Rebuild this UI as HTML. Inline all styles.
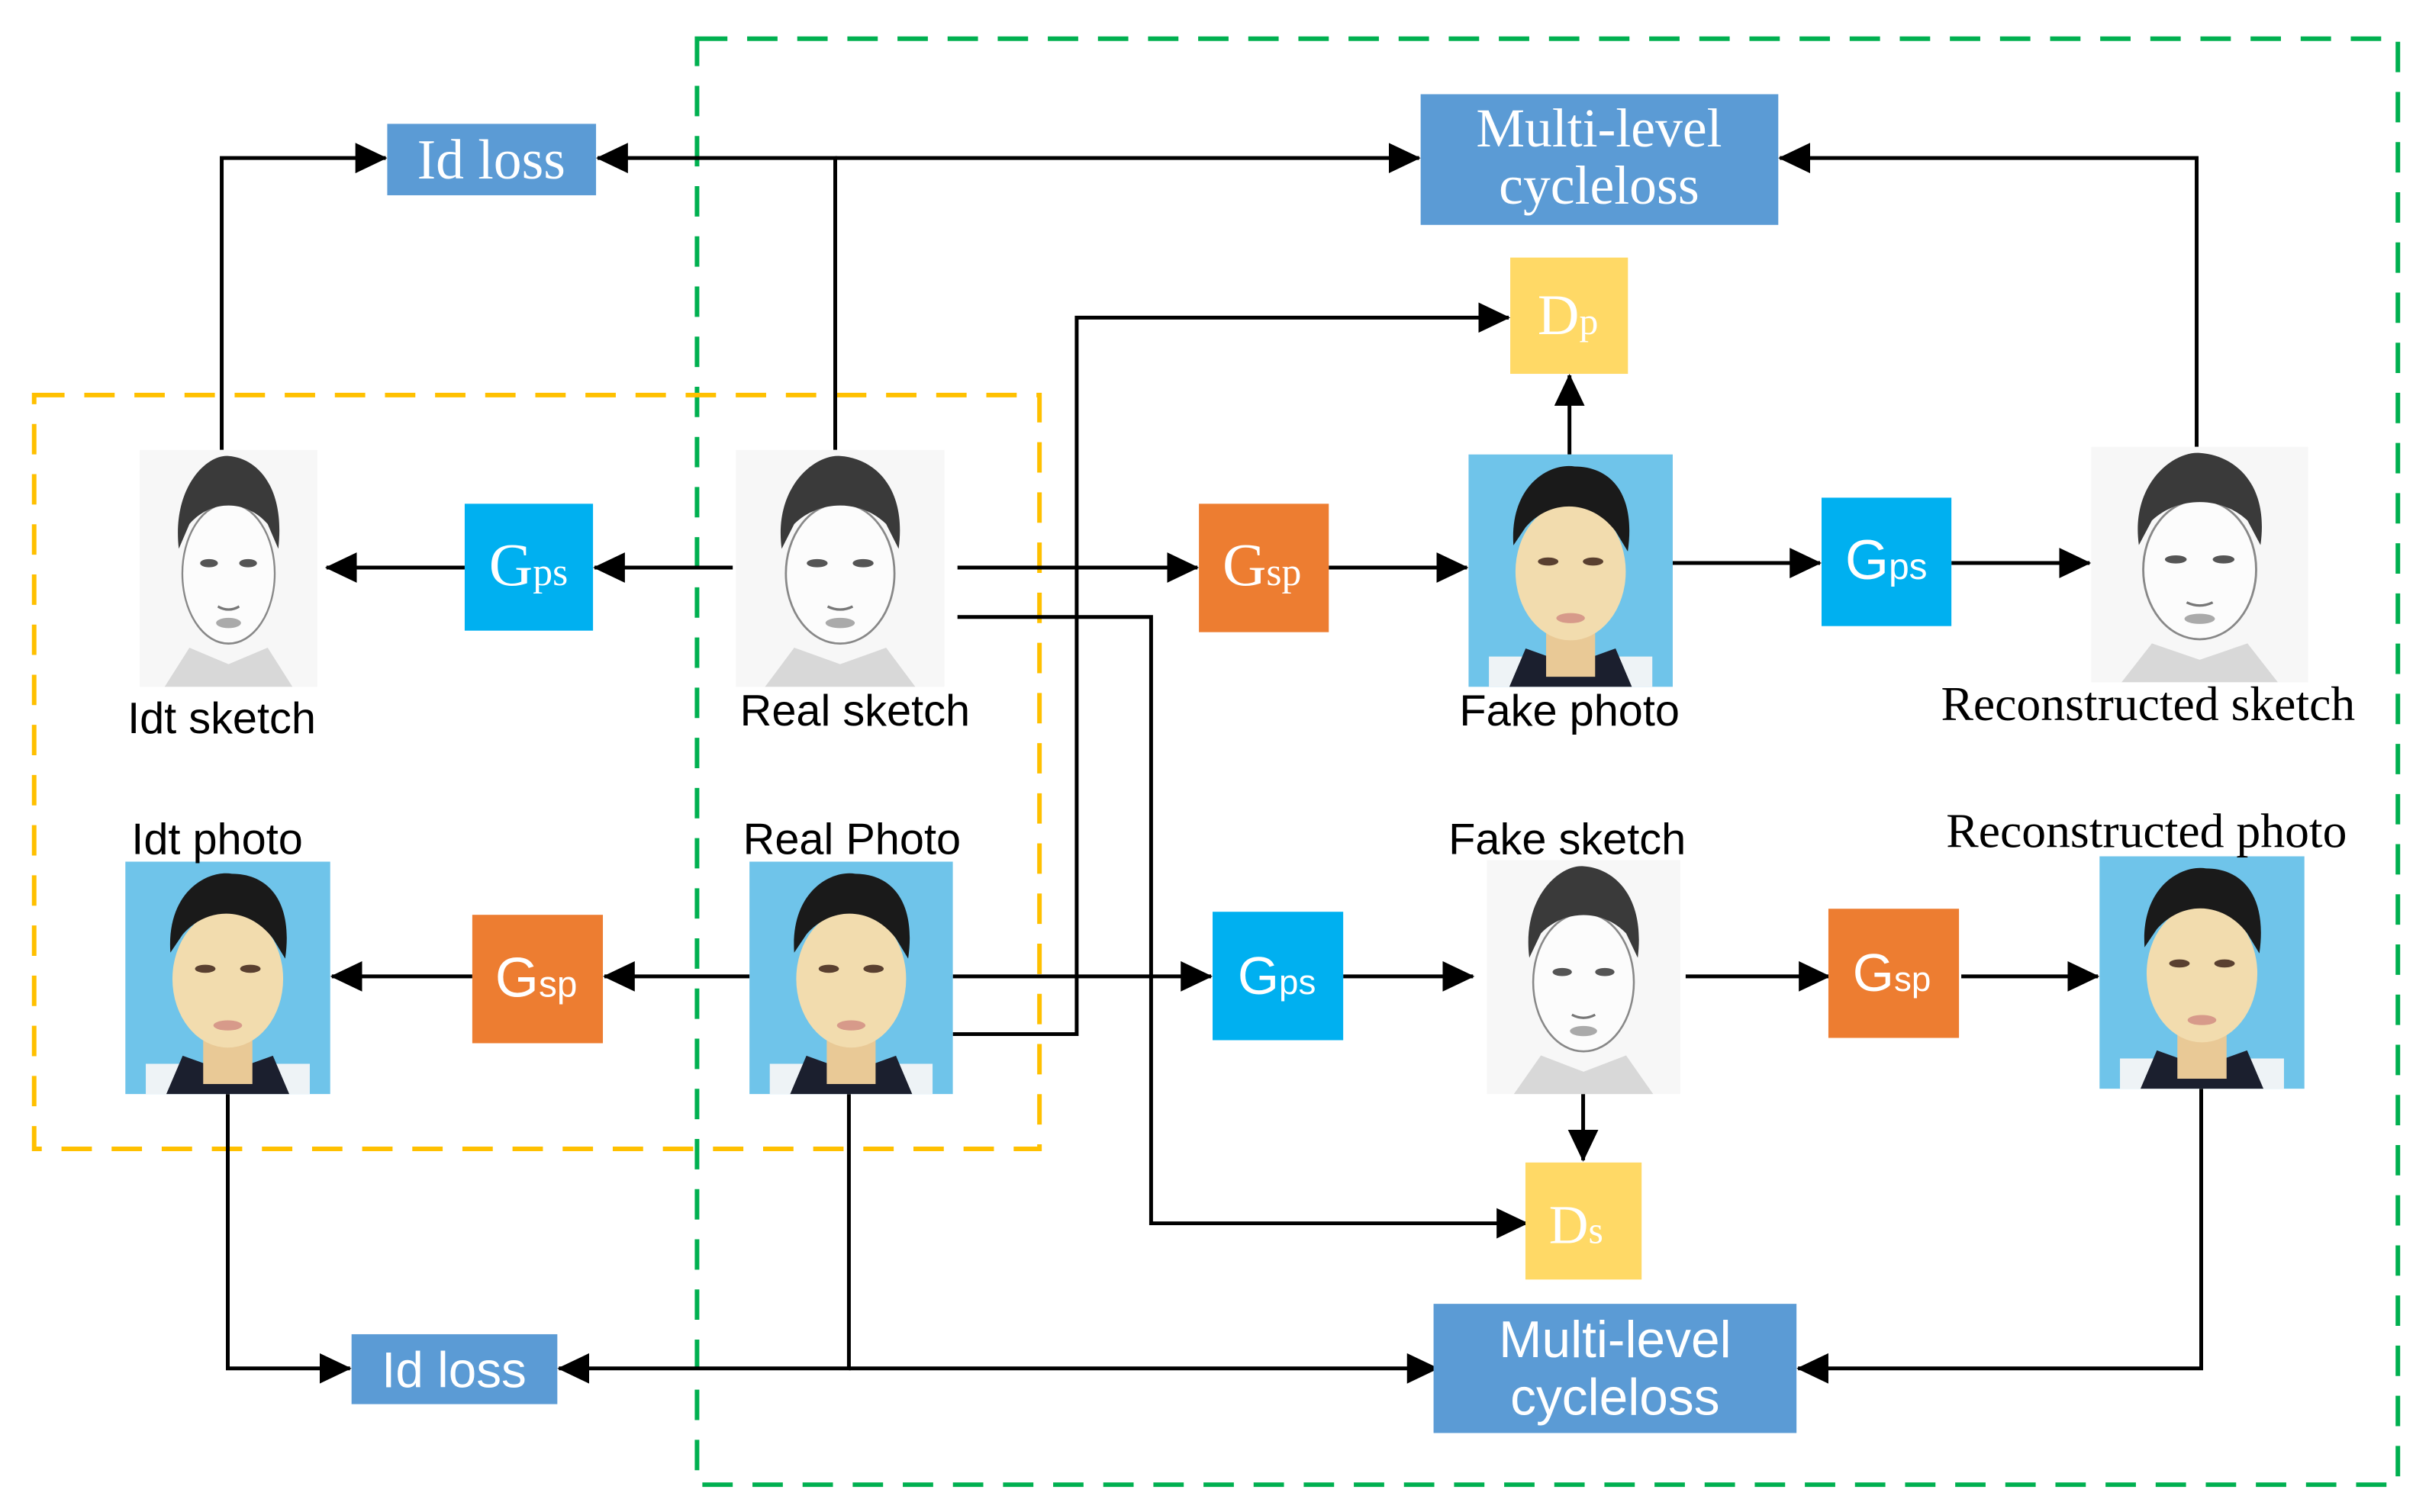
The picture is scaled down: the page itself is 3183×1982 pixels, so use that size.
<!DOCTYPE html>
<html><head><meta charset="utf-8"><style>html,body{margin:0;padding:0;background:#fff}svg{display:block}</style></head>
<body>
<svg width="3183" height="1982" viewBox="0 0 3183 1982" xmlns="http://www.w3.org/2000/svg">
<defs>
<marker id="b" markerWidth="44" markerHeight="44" refX="40" refY="20" orient="auto" markerUnits="userSpaceOnUse">
<path d="M0,0 L42,20 L0,40 z" fill="#000"/>
</marker>
<symbol id="ph" viewBox="0 0 100 115" preserveAspectRatio="none">
<rect width="100" height="115" fill="#6fc4ea"/>
<rect x="10" y="100" width="80" height="15" fill="#eef3f6"/>
<path d="M20,115 L28,96 L50,104 L72,96 L80,115 z" fill="#1b1f2e"/>
<rect x="38" y="80" width="24" height="30" fill="#e9c996"/>
<ellipse cx="50" cy="58" rx="27" ry="34" fill="#f2dcae"/>
<path d="M22,45 C20,15 40,4 52,6 C70,6 82,20 78,48 L72,38 C60,22 40,22 28,36 z" fill="#1a1a1a"/>
<ellipse cx="39" cy="53" rx="5" ry="2" fill="#5a4030"/>
<ellipse cx="61" cy="53" rx="5" ry="2" fill="#5a4030"/>
<ellipse cx="50" cy="81" rx="7" ry="2.5" fill="#d79a8a"/>
</symbol>
<symbol id="sk" viewBox="0 0 100 115" preserveAspectRatio="none">
<rect width="100" height="115" fill="#f7f7f7"/>
<path d="M14,115 L28,96 L50,104 L72,96 L86,115 z" fill="#d8d8d8"/>
<ellipse cx="50" cy="60" rx="26" ry="34" fill="#fcfcfc" stroke="#888" stroke-width="1"/>
<path d="M22,48 C18,18 38,2 50,3 C66,4 82,18 78,48 L72,36 C60,24 40,24 28,36 z" fill="#3a3a3a"/>
<ellipse cx="39" cy="55" rx="5" ry="2" fill="#555"/>
<ellipse cx="61" cy="55" rx="5" ry="2" fill="#555"/>
<path d="M44,76 Q50,79 56,76" stroke="#777" fill="none" stroke-width="1.2"/>
<ellipse cx="50" cy="84" rx="7" ry="2.5" fill="#aaa"/>
</symbol>
</defs>
<rect width="3183" height="1982" fill="#fff"/>
<g transform="scale(0.995,0.996)">
<rect x="918" y="51" width="2240" height="1903" fill="none" stroke="#00b050" stroke-width="6" stroke-dasharray="40,26"/>
<rect x="45" y="520" width="1324" height="992" fill="none" stroke="#ffc000" stroke-width="6" stroke-dasharray="40,26"/>

<use href="#sk" x="184" y="592" width="234" height="312"/>
<use href="#sk" x="969" y="592" width="275" height="312"/>
<use href="#ph" x="1934" y="598" width="269" height="306"/>
<use href="#sk" x="2754" y="588" width="286" height="310"/>
<use href="#ph" x="165" y="1134" width="270" height="306"/>
<use href="#ph" x="987" y="1134" width="268" height="306"/>
<use href="#sk" x="1958" y="1132" width="255" height="308"/>
<use href="#ph" x="2765" y="1127" width="270" height="306"/>

<g stroke="#000" stroke-width="5" fill="none">
<polyline points="292,592 292,208 508,208" marker-end="url(#b)"/>
<polyline points="1100,592 1100,208 787,208" marker-end="url(#b)"/>
<polyline points="1100,208 1869,208" marker-end="url(#b)"/>
<polyline points="2893,588 2893,208 2344,208" marker-end="url(#b)"/>
<polyline points="1255,1361 1418,1361 1418,418 1987,418" marker-end="url(#b)"/>
<polyline points="2067,598 2067,494" marker-end="url(#b)"/>
<polyline points="1261,747 1577,747" marker-end="url(#b)"/>
<polyline points="1261,812 1516,812 1516,1610 2011,1610" marker-end="url(#b)"/>
<polyline points="965,747 783,747" marker-end="url(#b)"/>
<polyline points="612,747 430,747" marker-end="url(#b)"/>
<polyline points="1750,747 1932,747" marker-end="url(#b)"/>
<polyline points="2203,741 2397,741" marker-end="url(#b)"/>
<polyline points="2570,741 2752,741" marker-end="url(#b)"/>
<polyline points="987,1285 796,1285" marker-end="url(#b)"/>
<polyline points="622,1285 437,1285" marker-end="url(#b)"/>
<polyline points="1255,1285 1595,1285" marker-end="url(#b)"/>
<polyline points="1769,1285 1940,1285" marker-end="url(#b)"/>
<polyline points="2220,1285 2409,1285" marker-end="url(#b)"/>
<polyline points="2583,1285 2763,1285" marker-end="url(#b)"/>
<polyline points="2085,1440 2085,1527" marker-end="url(#b)"/>
<polyline points="300,1440 300,1801 461,1801" marker-end="url(#b)"/>
<polyline points="1118,1440 1118,1801 736,1801" marker-end="url(#b)"/>
<polyline points="1118,1801 1893,1801" marker-end="url(#b)"/>
<polyline points="2899,1433 2899,1801 2368,1801" marker-end="url(#b)"/>
</g>

<g font-family="Liberation Serif, serif" fill="#fff">
<rect x="510" y="163" width="275" height="94" fill="#5b9bd5"/>
<text x="647" y="235" font-size="74" text-anchor="middle" fill="#fff">Id loss</text>
<rect x="1871" y="124" width="471" height="172" fill="#5b9bd5"/>
<text x="2106" y="193" font-size="72" text-anchor="middle" fill="#fff">Multi-level</text>
<text x="2106" y="268" font-size="72" text-anchor="middle" fill="#fff">cycleloss</text>
<rect x="1989" y="339" width="155" height="153" fill="#ffd966"/>
<text x="2025" y="440" font-size="76" fill="#fff">D<tspan font-size="50">p</tspan></text>
<rect x="612" y="663" width="169" height="167" fill="#00b0f0"/>
<text x="644" y="770" font-size="80" fill="#fff">G<tspan font-size="52">ps</tspan></text>
<rect x="1579" y="663" width="171" height="169" fill="#ed7d31"/>
<text x="1610" y="770" font-size="80" fill="#fff">G<tspan font-size="52">sp</tspan></text>
</g>
<g font-family="Liberation Sans, sans-serif" fill="#fff">
<rect x="2399" y="655" width="171" height="169" fill="#00b0f0"/>
<text x="2430" y="762" font-size="74" fill="#fff">G<tspan font-size="48">ps</tspan></text>
<rect x="622" y="1204" width="172" height="169" fill="#ed7d31"/>
<text x="652" y="1312" font-size="74" fill="#fff">G<tspan font-size="48">sp</tspan></text>
<rect x="1597" y="1200" width="172" height="169" fill="#00b0f0"/>
<text x="1630" y="1308" font-size="70" fill="#fff">G<tspan font-size="46">ps</tspan></text>
<rect x="2408" y="1196" width="172" height="170" fill="#ed7d31"/>
<text x="2440" y="1304" font-size="70" fill="#fff">G<tspan font-size="46">sp</tspan></text>
<rect x="2009" y="1530" width="153" height="154" fill="#ffd966"/>
<text x="2040" y="1636" font-size="72" font-family="Liberation Serif, serif" fill="#fff">D<tspan font-size="50">s</tspan></text>
<rect x="463" y="1756" width="271" height="92" fill="#5b9bd5"/>
<text x="598" y="1826" font-size="66" text-anchor="middle" fill="#fff">Id loss</text>
<rect x="1888" y="1716" width="478" height="170" fill="#5b9bd5"/>
<text x="2127" y="1786" font-size="68" text-anchor="middle" fill="#fff">Multi-level</text>
<text x="2127" y="1862" font-size="68" text-anchor="middle" fill="#fff">cycleloss</text>
</g>

<g font-family="Liberation Sans, sans-serif" font-size="58" fill="#000" text-anchor="middle">
<text x="292" y="965">Idt sketch</text>
<text x="1126" y="955">Real sketch</text>
<text x="2067" y="955">Fake photo</text>
<text x="286" y="1124">Idt photo</text>
<text x="1122" y="1124">Real Photo</text>
<text x="2064" y="1124">Fake sketch</text>
</g>
<g font-family="Liberation Serif, serif" font-size="64" fill="#000" text-anchor="middle">
<text x="2829" y="948">Reconstructed sketch</text>
<text x="2827" y="1115">Reconstructed photo</text>
</g>
</g>
</svg>
</body></html>
